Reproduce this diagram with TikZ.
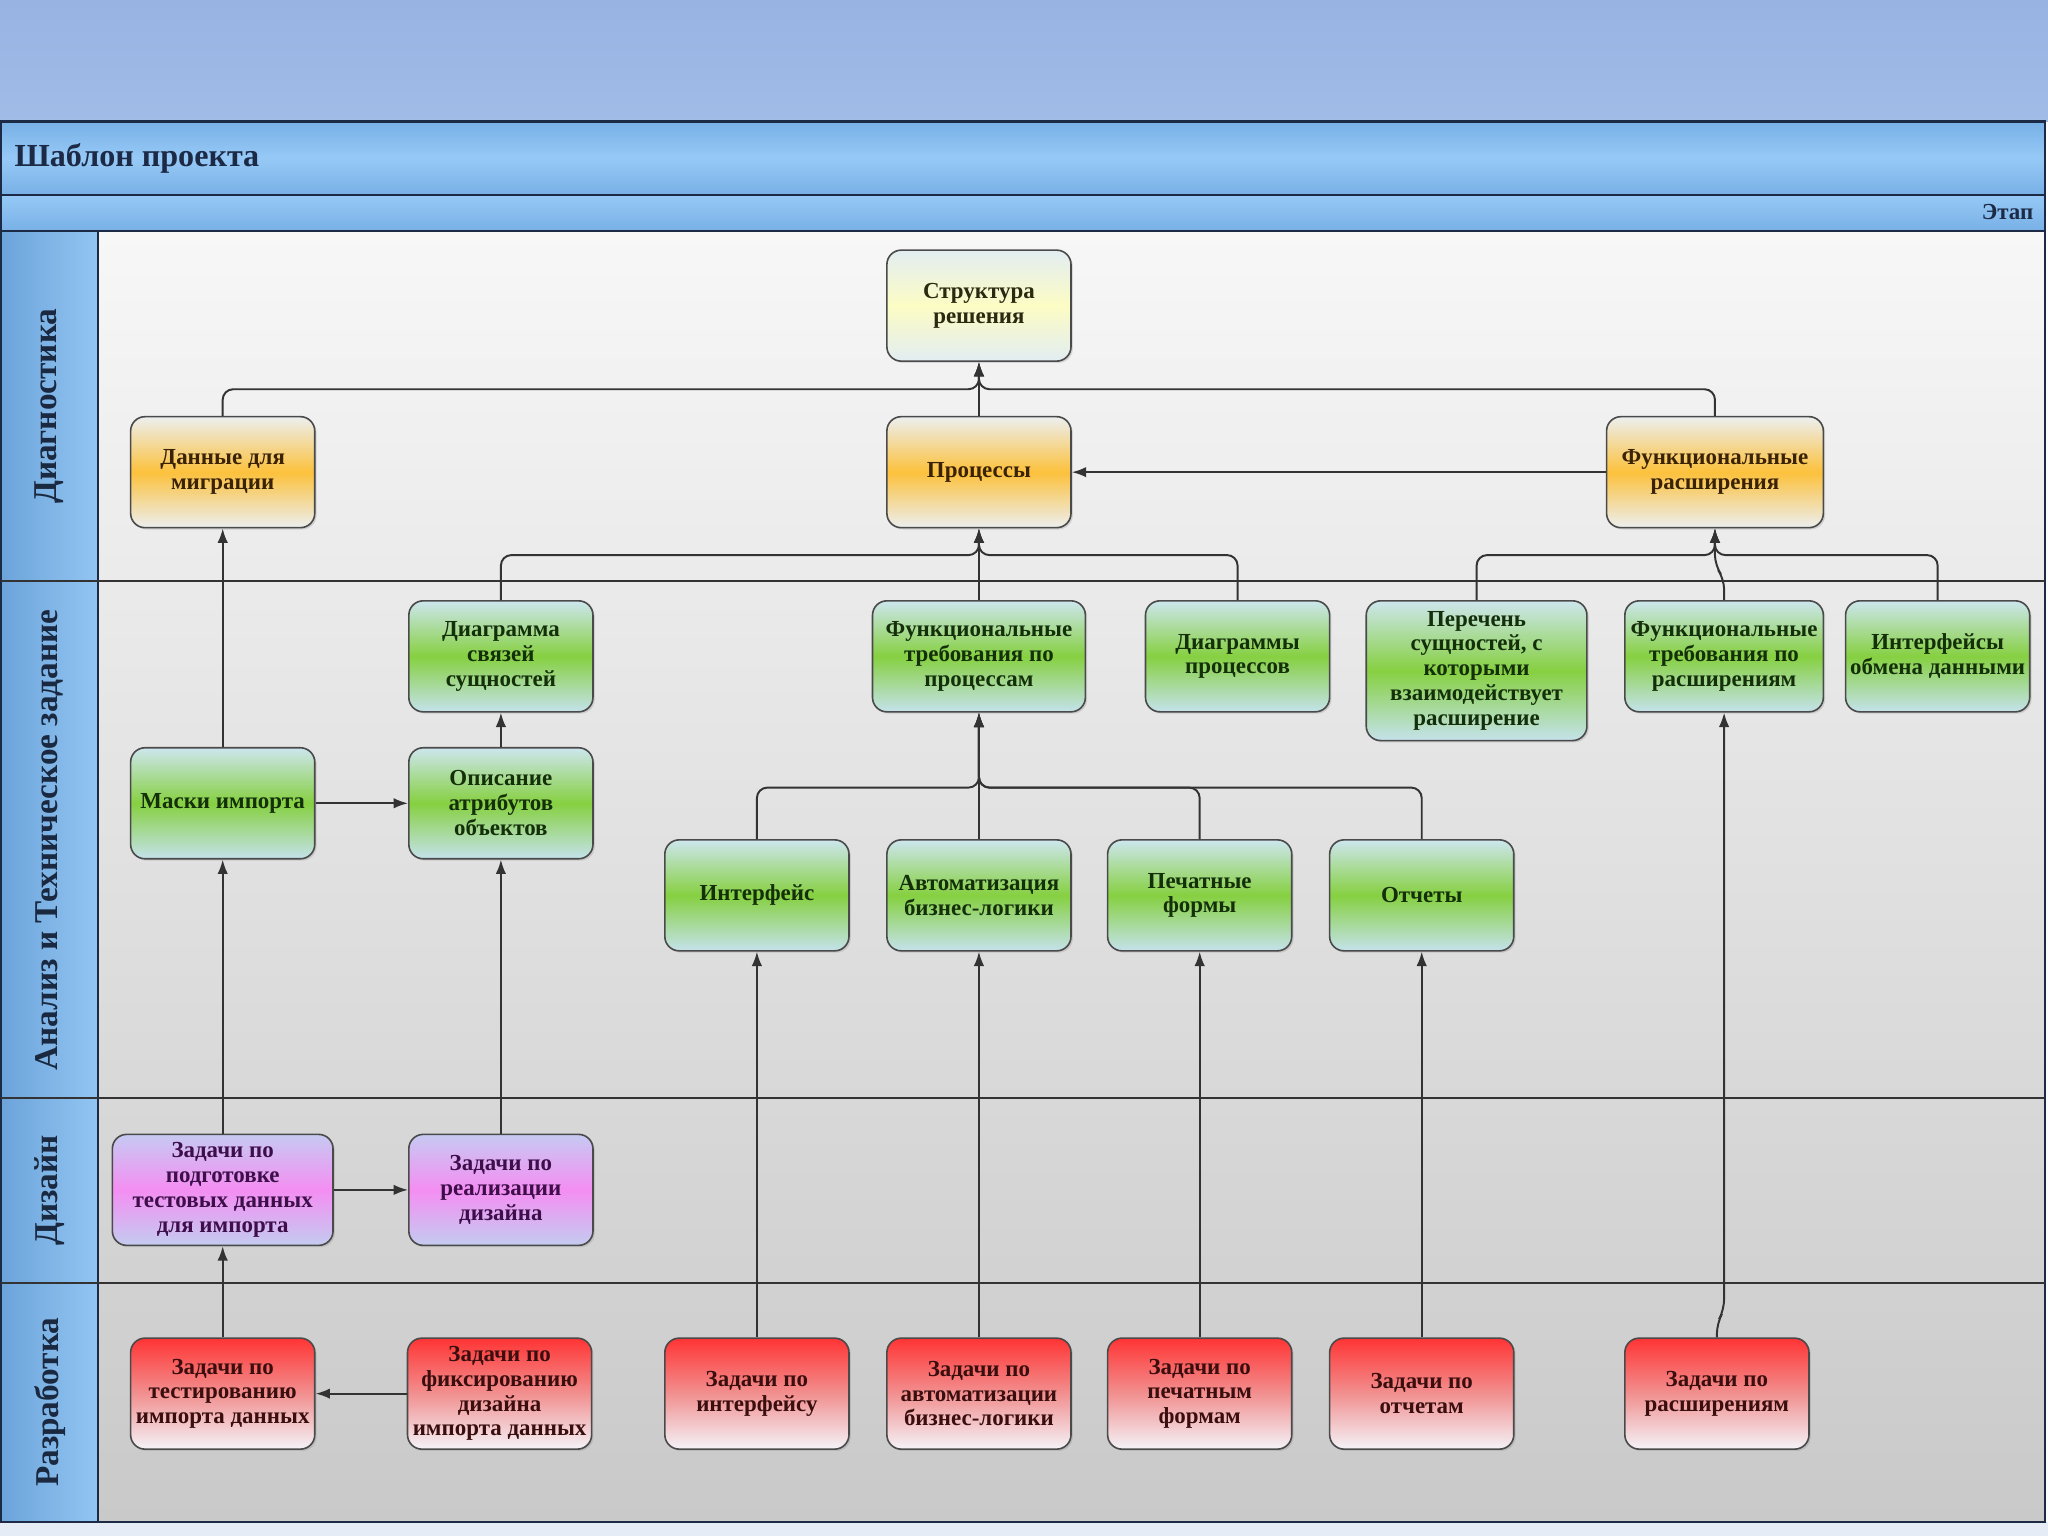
\documentclass[tikz,border=0pt]{standalone}
\usepackage{fontspec}
\setmainfont{Liberation Serif}
\usetikzlibrary{arrows.meta,shadows,calc}
\definecolor{topA}{HTML}{98B2E2}
\definecolor{topB}{HTML}{A2BCE8}
\definecolor{hdrA}{HTML}{78B0E6}
\definecolor{hdrB}{HTML}{96C9F6}
\definecolor{colA}{HTML}{6CA4DA}
\definecolor{colB}{HTML}{92C5F2}
\definecolor{contA}{HTML}{F7F7F7}
\definecolor{contB}{HTML}{C9C9C9}
\definecolor{navy}{HTML}{1C2A46}
\definecolor{lanetxt}{HTML}{1A2840}
\definecolor{conncol}{HTML}{333333}
\definecolor{boxline}{HTML}{4A4A4A}
\definecolor{gtop}{HTML}{CDE6EE}
\definecolor{gmid}{HTML}{86D041}
\definecolor{gbot}{HTML}{C5E2EC}
\definecolor{gtxt}{HTML}{14300A}
\definecolor{otop}{HTML}{ECEFF0}
\definecolor{omid}{HTML}{FCC13C}
\definecolor{otxt}{HTML}{3A2205}
\definecolor{ytop}{HTML}{E2EDF2}
\definecolor{ymid}{HTML}{FCFCC4}
\definecolor{ytxt}{HTML}{2A2A10}
\definecolor{ptop}{HTML}{C6CAF2}
\definecolor{pmid}{HTML}{F48EF2}
\definecolor{pbot}{HTML}{C3CCF0}
\definecolor{ptxt}{HTML}{3E0E4A}
\definecolor{rtop}{HTML}{FF3434}
\definecolor{rmid}{HTML}{F29090}
\definecolor{rbot}{HTML}{F3F3F8}
\definecolor{rtxt}{HTML}{3A0E0E}
\definecolor{botband}{HTML}{E6ECF5}
\tikzset{
  box/.style={draw=boxline, line width=0.7pt, rounded corners=0.22cm,
    minimum width=2.82cm, minimum height=1.7cm, align=center, inner sep=1pt,
    font=\fontsize{10}{10.8}\selectfont\bfseries,
    drop shadow={shadow xshift=0.8pt, shadow yshift=-0.8pt, opacity=0.25}},
  gbox/.style={box, top color=gtop, bottom color=gbot, middle color=gmid, text=gtxt},
  obox/.style={box, top color=otop, bottom color=otop, middle color=omid, text=otxt},
  ybox/.style={box, top color=ytop, bottom color=ytop, middle color=ymid, text=ytxt},
  pbox/.style={box, top color=ptop, bottom color=pbot, middle color=pmid, text=ptxt},
  rbox/.style={box, top color=rtop, bottom color=rbot, middle color=rmid, text=rtxt},
  conn/.style={draw=conncol, line width=0.85pt, rounded corners=0.16cm,
    -{Latex[length=2.2mm,width=1.6mm]}},
  poolline/.style={draw=navy, line width=0.9pt},
  laneline/.style={draw=black!80, line width=0.9pt},
  lanelbl/.style={rotate=90, font=\fontsize{14.5}{16}\selectfont\bfseries, text=lanetxt}
}
\begin{document}
\begin{tikzpicture}[x=0.02cm,y=-0.02cm]
\useasboundingbox (0,0) rectangle (1568,1176);
% backgrounds
\shade[top color=topA, bottom color=topB] (0,0) rectangle (1568,93);
\fill[botband] (0,1165) rectangle (1568,1176);
\shade[top color=hdrA, bottom color=hdrA, middle color=hdrB] (1,93) rectangle (1566,149);
\shade[top color=hdrB, bottom color=hdrA] (1,149) rectangle (1566,177);
\shade[left color=colA, right color=colB] (1,177) rectangle (75,1165);
\shade[top color=contA, bottom color=contB] (75,177) rectangle (1566,1165);
\draw[poolline] (1,93) rectangle (1566,1165);
\draw[poolline] (1,149) -- (1566,149);
\draw[poolline] (1,177) -- (1566,177);
\draw[poolline] (75,177) -- (75,1165);
\draw[laneline] (1,445) -- (1566,445);
\draw[laneline] (1,841) -- (1566,841);
\draw[laneline] (1,982) -- (1566,982);
% header texts
\node[anchor=west, font=\fontsize{14}{16}\selectfont\bfseries, text=navy] (ttl) at (5,121) {Шаблон проекта};
\node[anchor=east, font=\fontsize{10}{12}\selectfont\bfseries, text=navy] (etap) at (1563,162) {Этап};
\node[lanelbl] (l1) at (38,311) {Диагностика};
\node[lanelbl] (l2) at (38,643) {Анализ и Техническое задание};
\node[lanelbl] (l3) at (38,911.5) {Дизайн};
\node[lanelbl] (l4) at (38,1073.5) {Разработка};
% Diagnostics
\node[ybox] (st) at (749.5,234) {Структура\\решения};
\node[obox] (dm) at (170.5,361.5) {Данные для\\миграции};
\node[obox] (pr) at (749.5,361.5) {Процессы};
\node[obox, minimum width=3.32cm] (fr) at (1313,361.5) {Функциональные\\расширения};
% Analysis
\node[gbox] (ds) at (383.5,502.5) {Диаграмма\\связей\\сущностей};
\node[gbox, minimum width=3.26cm] (ftp) at (749.5,502.5) {Функциональные\\требования по\\процессам};
\node[gbox] (dp) at (947.5,502.5) {Диаграммы\\процессов};
\node[gbox, minimum width=3.38cm, minimum height=2.14cm] (pe) at (1130.5,513.5) {Перечень\\сущностей, с\\которыми\\взаимодействует\\расширение};
\node[gbox, minimum width=3.04cm] (ftr) at (1320,502.5) {Функциональные\\требования по\\расширениям};
\node[gbox] (io) at (1483.5,502.5) {Интерфейсы\\обмена данными};
\node[gbox] (mi) at (170.5,615) {Маски импорта};
\node[gbox] (oa) at (383.5,615) {Описание\\атрибутов\\объектов};
\node[gbox] (if) at (579.5,685.5) {Интерфейс};
\node[gbox] (ab) at (749.5,685.5) {Автоматизация\\бизнес-логики};
\node[gbox] (pf) at (918.5,685.5) {Печатные\\формы};
\node[gbox] (ot) at (1088.5,685.5) {Отчеты};
% Design
\node[pbox, minimum width=3.38cm] (zp) at (170.5,911) {Задачи по\\подготовке\\тестовых данных\\для импорта};
\node[pbox] (zr) at (383.5,911) {Задачи по\\реализации\\дизайна};
% Development
\node[rbox] (zt) at (170.5,1067) {Задачи по\\тестированию\\импорта данных};
\node[rbox] (zf) at (382.5,1067) {Задачи по\\фиксированию\\дизайна\\импорта данных};
\node[rbox] (zi) at (579.5,1067) {Задачи по\\интерфейсу};
\node[rbox] (za) at (749.5,1067) {Задачи по\\автоматизации\\бизнес-логики};
\node[rbox] (zpf) at (918.5,1067) {Задачи по\\печатным\\формам};
\node[rbox] (zo) at (1088.5,1067) {Задачи по\\отчетам};
\node[rbox] (zrs) at (1314.5,1067) {Задачи по\\расширениям};
% bus coordinates
\coordinate (bA) at (749.5,298);
\coordinate (bB) at (749.5,425);
\coordinate (bC) at (1313,425);
\coordinate (bD) at (749.5,603);
\coordinate (j1) at (0,443);
\coordinate (j2) at (0,433);
\coordinate (j3) at (0,1013);
\coordinate (j4) at (0,1003);
% connectors
\draw[conn] (dm.north) |- (bA) -- (st.south);
\draw[conn] (fr.north) |- (bA) -- (st.south);
\draw[conn] (pr.north) -- (st.south);
\draw[conn] (fr.west) -- (pr.east);
\draw[conn] (ds.north) |- (bB) -- (pr.south);
\draw[conn] (ftp.north) -- (pr.south);
\draw[conn] (dp.north) |- (bB) -- (pr.south);
\draw[conn] (pe.north) |- (bC) -- (fr.south);
\draw[conn] (io.north) |- (bC) -- (fr.south);
\draw[conn] (ftr.north) -- (ftr.north |- j1) -- (fr.south |- j2) -- (fr.south);
\draw[conn] (mi.north) -- (dm.south);
\draw[conn] (mi.east) -- (oa.west);
\draw[conn] (oa.north) -- (ds.south);
\draw[conn] (if.north) |- (bD) -- (ftp.south);
\draw[conn] (ab.north) -- (ftp.south);
\draw[conn] (pf.north) |- (bD) -- (ftp.south);
\draw[conn] (ot.north) |- (bD) -- (ftp.south);
\draw[conn] (zp.north) -- (mi.south);
\draw[conn] (zp.east) -- (zr.west);
\draw[conn] (zr.north) -- (oa.south);
\draw[conn] (zt.north) -- (zp.south);
\draw[conn] (zf.west) -- (zt.east);
\draw[conn] (zi.north) -- (if.south);
\draw[conn] (za.north) -- (ab.south);
\draw[conn] (zpf.north) -- (pf.south);
\draw[conn] (zo.north) -- (ot.south);
\draw[conn] (zrs.north) -- (zrs.north |- j3) -- (ftr.south |- j4) -- (ftr.south);
\end{tikzpicture}
\end{document}
